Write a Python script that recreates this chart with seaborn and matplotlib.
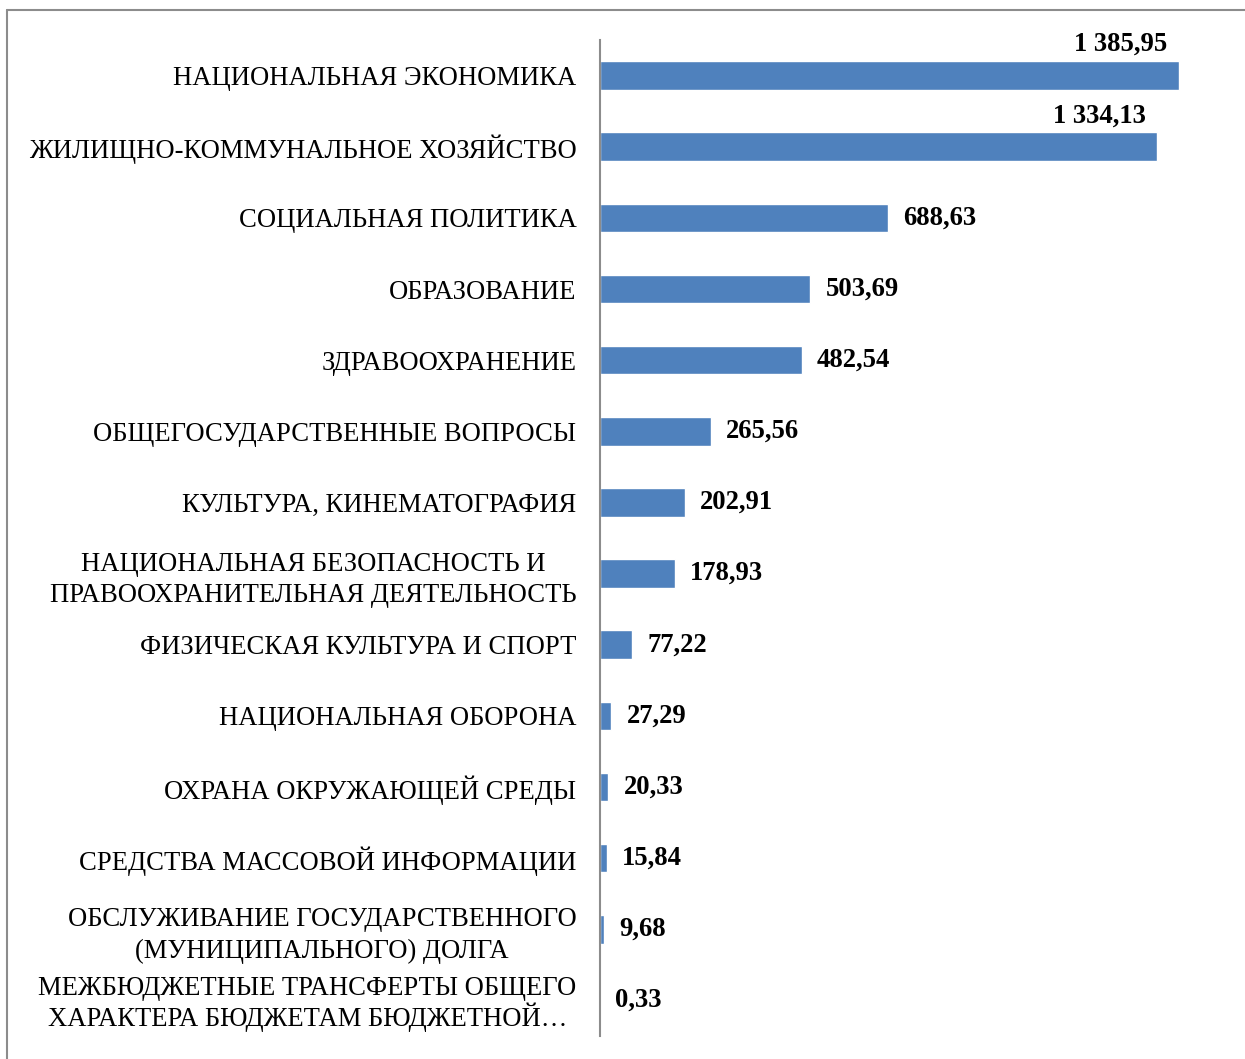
import pandas as pd
import matplotlib.pyplot as plt
import seaborn as sns
from matplotlib.lines import Line2D

# Данные
categories = [
    'НАЦИОНАЛЬНАЯ ЭКОНОМИКА',
    'ЖИЛИЩНО-КОММУНАЛЬНОЕ ХОЗЯЙСТВО',
    'СОЦИАЛЬНАЯ ПОЛИТИКА',
    'ОБРАЗОВАНИЕ',
    'ЗДРАВООХРАНЕНИЕ',
    'ОБЩЕГОСУДАРСТВЕННЫЕ ВОПРОСЫ',
    'КУЛЬТУРА, КИНЕМАТОГРАФИЯ',
    'НАЦИОНАЛЬНАЯ БЕЗОПАСНОСТЬ И\nПРАВООХРАНИТЕЛЬНАЯ ДЕЯТЕЛЬНОСТЬ',
    'ФИЗИЧЕСКАЯ КУЛЬТУРА И СПОРТ',
    'НАЦИОНАЛЬНАЯ ОБОРОНА',
    'ОХРАНА ОКРУЖАЮЩЕЙ СРЕДЫ',
    'СРЕДСТВА МАССОВОЙ ИНФОРМАЦИИ',
    'ОБСЛУЖИВАНИЕ ГОСУДАРСТВЕННОГО\n(МУНИЦИПАЛЬНОГО) ДОЛГА',
    'МЕЖБЮДЖЕТНЫЕ ТРАНСФЕРТЫ ОБЩЕГО\nХАРАКТЕРА БЮДЖЕТАМ БЮДЖЕТНОЙ…',
]
values = [1385.95, 1334.13, 688.63, 503.69, 482.54, 265.56, 202.91,
          178.93, 77.22, 27.29, 20.33, 15.84, 9.68, 0.33]

df = pd.DataFrame({'cat': categories, 'val': values})

sns.set_style('white')
plt.rcParams['font.family'] = ['Liberation Serif', 'DejaVu Serif']
plt.rcParams['text.color'] = 'black'
plt.rcParams['ytick.color'] = 'black'
plt.rcParams['ytick.labelcolor'] = 'black'

FS = 19.2
W, H = 1245, 1059
fig = plt.figure(figsize=(W / 100, H / 100), dpi=100)
ax = fig.add_axes([600 / W, 1 - 1036 / H, (1500 * 0.4178) / W, (1036 - 40) / H])

sns.barplot(data=df, y='cat', x='val', orient='h', color='#4F81BD',
            saturation=1, width=0.4, ax=ax)

ax.set_xlim(0, 1500)
ax.set_ylim(13.5, -0.5)
ax.set_xlabel('')
ax.set_ylabel('')
ax.set_xticks([])
for s in ['top', 'right', 'bottom']:
    ax.spines[s].set_visible(False)
ax.spines['left'].set_color('#8c8c8c')
ax.spines['left'].set_linewidth(1.5)
ax.tick_params(axis='y', length=0, pad=17, labelsize=FS, labelcolor='black')
for lbl in ax.get_yticklabels():
    lbl.set_multialignment('center')
    # строка с «Й» выше остальных, поэтому меньший интервал
    lbl.set_linespacing(1.07 if 'Й…' in lbl.get_text() else 1.35)

# Подписи значений
for i, v in enumerate(values):
    txt = f'{v:,.2f}'.replace(',', ' ').replace('.', ',')
    if v > 1000:
        ax.annotate(txt, xy=(v, i), xytext=(-12, 31), textcoords='offset pixels',
                    ha='right', va='center', fontsize=FS, fontweight='bold')
    else:
        ax.annotate(txt, xy=(v, i), xytext=(15, 0), textcoords='offset pixels',
                    ha='left', va='center', fontsize=FS, fontweight='bold')

# Рамка
fig.add_artist(Line2D([7 / W, 7 / W], [0, 1 - 10 / H], transform=fig.transFigure,
                      color='#8c8c8c', lw=1.5))
fig.add_artist(Line2D([7 / W, 1], [1 - 10 / H, 1 - 10 / H], transform=fig.transFigure,
                      color='#8c8c8c', lw=1.5))

fig.savefig('out.png', dpi=100)
